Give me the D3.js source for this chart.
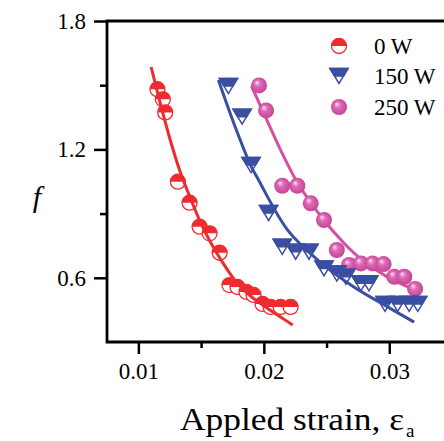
<!DOCTYPE html>
<html>
<head>
<meta charset="utf-8">
<script src="https://cdn.jsdelivr.net/npm/d3@7"></script>
<style>
  body { margin: 0; background: #fff; }
  svg { display: block; }
  svg text { font-family: "Liberation Serif", "Times New Roman", Times, serif !important; fill: #000; }
</style>
</head>
<body>
<div class="chart"></div>
<script>
// data
var seriesNames = ['0 W', '150 W', '250 W'];

var red = [
  [0.01152, 1.481], [0.01195, 1.434], [0.01214, 1.373], [0.01315, 1.049],
  [0.01408, 0.951], [0.01488, 0.839], [0.01568, 0.808], [0.01648, 0.717],
  [0.01726, 0.566], [0.01790, 0.557], [0.01862, 0.534], [0.01918, 0.520],
  [0.01990, 0.478], [0.02054, 0.464], [0.02134, 0.464], [0.02214, 0.464]
];
var redFit = [
  [0.01102, 1.585], [0.01174, 1.417], [0.01254, 1.244], [0.01334, 1.094],
  [0.01414, 0.973], [0.01494, 0.861], [0.01574, 0.767], [0.01654, 0.688],
  [0.01774, 0.585], [0.01894, 0.515], [0.02014, 0.464], [0.02134, 0.417],
  [0.02230, 0.379]
];

var blue = [
  [0.01718, 1.496], [0.01827, 1.353], [0.01898, 1.127], [0.02038, 0.903],
  [0.02147, 0.745], [0.02254, 0.722], [0.02360, 0.722], [0.02480, 0.644],
  [0.02582, 0.620], [0.02654, 0.605], [0.02774, 0.574], [0.02838, 0.574],
  [0.02966, 0.478], [0.03067, 0.478], [0.03158, 0.478], [0.03227, 0.478]
];
var blueFit = [
  [0.01638, 1.524], [0.01766, 1.314], [0.01894, 1.127], [0.01958, 1.057],
  [0.02190, 0.823], [0.02430, 0.683], [0.02718, 0.557], [0.02934, 0.482],
  [0.03198, 0.393]
];

var pink = [
  [0.01962, 1.499], [0.02018, 1.382], [0.02147, 1.030], [0.02267, 1.030],
  [0.02374, 0.948], [0.02480, 0.870], [0.02582, 0.730], [0.02680, 0.660],
  [0.02774, 0.667], [0.02867, 0.667], [0.02955, 0.664], [0.03040, 0.605],
  [0.03120, 0.605], [0.03206, 0.548]
];
var pinkFit = [
  [0.01902, 1.496], [0.02014, 1.351], [0.02134, 1.197], [0.02270, 1.043],
  [0.02478, 0.870], [0.02638, 0.763], [0.02774, 0.688], [0.02974, 0.608],
  [0.03206, 0.543]
];

var xMajor = [0.01, 0.02, 0.03]
  , xMinor = [0.015, 0.025]
  , yMajor = [0.6, 1.2, 1.8]
  , yMinor = [0.9, 1.5];

var W = 444, H = 441
  , mLeft = 107, mTop = 21, mRight = 452, mBottom = 342;

var cRed = '#ee2b2e', cBlue = '#3a4ea2', cPink = '#d64ea6';
var serif = '"Liberation Serif", "Times New Roman", Times, serif';

var svg = d3.select('.chart').append('svg')
  .attr('width', W)
  .attr('height', H);

var defs = svg.append('defs');
var grad = defs.append('radialGradient')
  .attr('id', 'ball')
  .attr('cx', '50%').attr('cy', '50%').attr('r', '55%')
  .attr('fx', '35%').attr('fy', '30%');
grad.append('stop').attr('offset', '0%').attr('stop-color', '#fbe3f2');
grad.append('stop').attr('offset', '35%').attr('stop-color', '#e06bb7');
grad.append('stop').attr('offset', '100%').attr('stop-color', '#c23f93');

var x = d3.scaleLinear().domain([0.0075, 0.035]).range([mLeft, mRight]);
var y = d3.scaleLinear().domain([0.3, 1.8]).range([mBottom, mTop]);

// axes
svg.append('g')
  .attr('transform', 'translate(0,' + mBottom + ')')
  .call(d3.axisBottom(x).tickValues(xMajor).tickSize(12).tickPadding(9)
    .tickFormat(d3.format('.2f')));
svg.append('g')
  .attr('transform', 'translate(0,' + mBottom + ')')
  .call(d3.axisBottom(x).tickValues(xMinor).tickSize(6).tickFormat(''));

svg.append('g')
  .attr('transform', 'translate(' + mLeft + ',0)')
  .call(d3.axisLeft(y).tickValues(yMajor).tickSize(13).tickPadding(8)
    .tickFormat(d3.format('.1f')));
svg.append('g')
  .attr('transform', 'translate(' + mLeft + ',0)')
  .call(d3.axisLeft(y).tickValues(yMinor).tickSize(7).tickFormat(''));

svg.selectAll('.domain').remove();
svg.selectAll('g').attr('font-family', serif);
svg.selectAll('.tick line').attr('stroke', '#000').attr('stroke-width', 2.5);
svg.selectAll('.tick text').attr('font-size', 23).style('font-family', serif);

// frame
svg.append('path')
  .attr('d', 'M' + mRight + ',' + mTop + 'H' + mLeft + 'V' + mBottom + 'H' + mRight)
  .attr('fill', 'none')
  .attr('stroke', '#000')
  .attr('stroke-width', 2.8);

var line = d3.line()
  .x(function (d) { return x(d[0]); })
  .y(function (d) { return y(d[1]); })
  .curve(d3.curveCatmullRom);

var drawFit = function (data, color) {
  svg.append('path')
    .datum(data)
    .attr('d', line)
    .attr('fill', 'none')
    .attr('stroke', color)
    .attr('stroke-width', 3);
};

// markers
var r = 7.5;
var halfCircle = function (g, color) {
  g.append('circle').attr('r', r).attr('fill', '#fff')
    .attr('stroke', color).attr('stroke-width', 1.3);
  g.append('path')
    .attr('d', 'M' + (-r) + ',0A' + r + ',' + r + ' 0 0 1 ' + r + ',0Z')
    .attr('fill', color);
};
var halfTriangle = function (g, color) {
  var a = 9, b = 7.5;
  g.append('path')
    .attr('d', 'M' + (-a) + ',' + (-b) + 'L' + a + ',' + (-b) + 'L0,' + b + 'Z')
    .attr('fill', '#fff').attr('stroke', color).attr('stroke-width', 1.5)
    .attr('stroke-linejoin', 'miter');
  g.append('path')
    .attr('d', 'M' + (-a) + ',' + (-b) + 'L' + a + ',' + (-b) + 'L' + (a / 2) + ',0L' + (-a / 2) + ',0Z')
    .attr('fill', color).attr('stroke', color).attr('stroke-width', 1.5);
};
var ball = function (g) {
  g.append('circle').attr('r', 8).attr('fill', 'url(#ball)');
};

var drawPoints = function (data, fn, color) {
  svg.append('g').selectAll('g')
    .data(data)
    .enter()
    .append('g')
    .attr('transform', function (d) { return 'translate(' + x(d[0]) + ',' + y(d[1]) + ')'; })
    .each(function () { fn(d3.select(this), color); });
};

drawFit(pinkFit, cPink);
drawPoints(pink, ball, cPink);
drawPoints(blue, halfTriangle, cBlue);
drawPoints(red, halfCircle, cRed);
drawFit(blueFit, cBlue);
drawFit(redFit, cRed);

// legend
var legY = [46, 76, 107]
  , legFns = [halfCircle, halfTriangle, ball]
  , legCols = [cRed, cBlue, cPink];
seriesNames.forEach(function (name, i) {
  var g = svg.append('g').attr('transform', 'translate(339,' + legY[i] + ')');
  legFns[i](g, legCols[i]);
  svg.append('text')
    .attr('x', 374)
    .attr('y', legY[i] + 8)
    .attr('font-size', 23)
    .style('font-family', serif)
    .text(name);
});

// axis titles
var title = svg.append('text')
  .attr('x', 180)
  .attr('y', 430)
  .attr('font-size', 31)
  .style('font-family', serif);
title.append('tspan')
  .attr('textLength', 224)
  .attr('lengthAdjust', 'spacingAndGlyphs')
  .text('Appled strain, \u03b5');
title.append('tspan').attr('font-size', 19).attr('dy', 7).attr('dx', 2).text('a');

svg.append('text')
  .attr('x', 37)
  .attr('y', 207)
  .attr('text-anchor', 'middle')
  .attr('font-size', 30)
  .attr('font-style', 'italic')
  .style('font-family', serif)
  .text('f');
</script>
</body>
</html>
